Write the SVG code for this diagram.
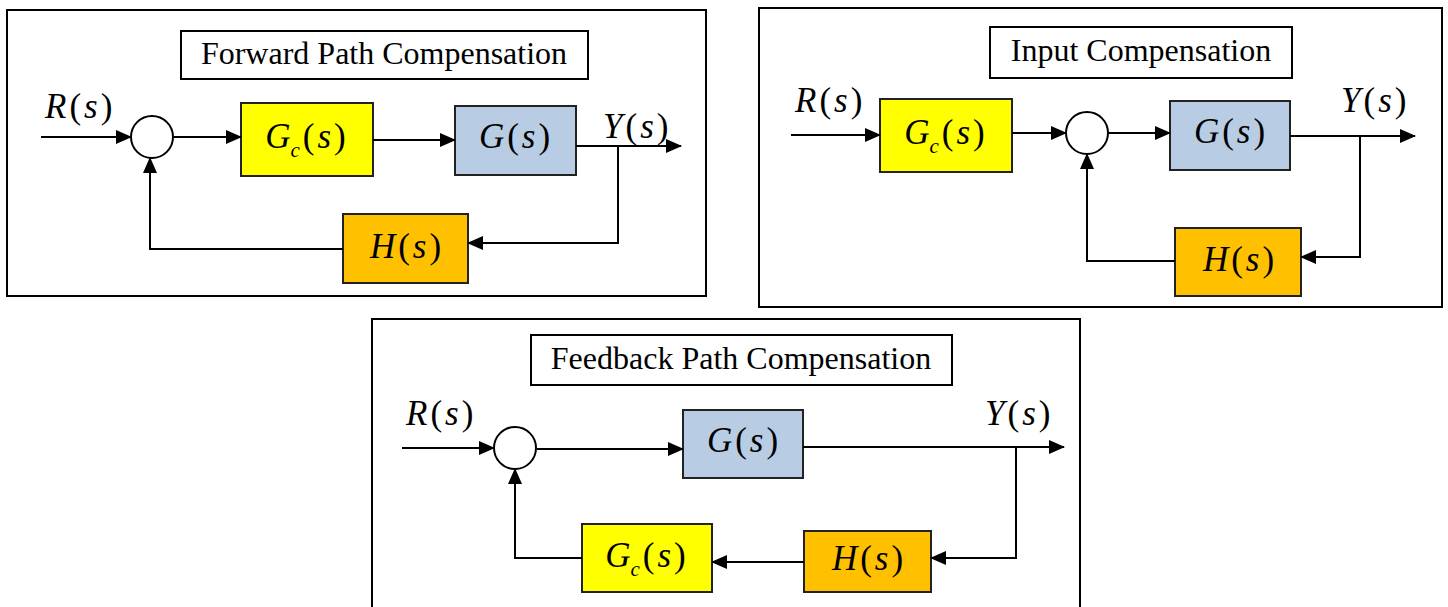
<svg xmlns="http://www.w3.org/2000/svg" width="1448" height="607" viewBox="0 0 1448 607">
<style>
.frame{fill:#fff;stroke:#000;stroke-width:2}
.title{fill:#fff;stroke:#000;stroke-width:2}
.tt{font-family:"Liberation Serif",serif;font-size:32px;fill:#000;text-anchor:middle}
.m{font-family:"Liberation Serif",serif;font-size:35px;fill:#000;letter-spacing:3px}
.i{font-style:italic}
.ns{letter-spacing:0}
.sub{font-size:21px;font-style:italic}
.blk{stroke:#222;stroke-width:2}
.gc{fill:#FFFF00}
.g{fill:#B8CCE4}
.h{fill:#FFC000}
.sum{fill:#fff;stroke:#000;stroke-width:2}
.w{fill:none;stroke:#000;stroke-width:2}
</style>
<defs>
<marker id="ah" markerWidth="16" markerHeight="14" refX="15" refY="7" orient="auto" markerUnits="userSpaceOnUse">
<path d="M0,0 L16,7 L0,14 Z" fill="#000"/>
</marker>
</defs>
<rect width="1448" height="607" fill="#fff"/>

<!-- Panel 1 -->
<g id="panel1">
<rect class="frame" x="7" y="10" width="699" height="286"/>
<g id="p1-title"><rect class="title" x="181" y="31" width="407" height="48"/><text class="tt" x="384" y="64">Forward Path Compensation</text></g>
<text class="m" x="45" y="118"><tspan class="i">R</tspan>(<tspan class="i">s</tspan>)</text>
<text class="m" x="603" y="138"><tspan class="i">Y</tspan>(<tspan class="i">s</tspan>)</text>
<g id="p1-sum"><circle class="sum" cx="152" cy="137" r="21"/></g>
<g id="p1-gc"><rect class="blk gc" x="241" y="103" width="132" height="73"/><text class="m" x="307" y="148" text-anchor="middle"><tspan class="i ns">G</tspan><tspan class="sub" dy="9">c</tspan><tspan dy="-9">(</tspan><tspan class="i">s</tspan>)</text></g>
<g id="p1-g"><rect class="blk g" x="455" y="106" width="121" height="69"/><text class="m" x="516" y="148" text-anchor="middle"><tspan class="i">G</tspan>(<tspan class="i">s</tspan>)</text></g>
<g id="p1-h"><rect class="blk h" x="343" y="214" width="125" height="69"/><text class="m" x="407" y="258" text-anchor="middle"><tspan class="i">H</tspan>(<tspan class="i">s</tspan>)</text></g>
<g id="p1-connectors">
<path class="w" d="M41,137 H131" marker-end="url(#ah)"/>
<path class="w" d="M173,137 H241" marker-end="url(#ah)"/>
<path class="w" d="M373,140 H455" marker-end="url(#ah)"/>
<path class="w" d="M576,146 H681" marker-end="url(#ah)"/>
<path class="w" d="M618,146 V243 H468" marker-end="url(#ah)"/>
<path class="w" d="M343,249 H150 V158" marker-end="url(#ah)"/>
</g>
</g>

<!-- Panel 2 -->
<g id="panel2">
<rect class="frame" x="759" y="8" width="683" height="299"/>
<g id="p2-title"><rect class="title" x="990" y="27" width="302" height="51"/><text class="tt" x="1141" y="61">Input Compensation</text></g>
<text class="m" x="795" y="112"><tspan class="i">R</tspan>(<tspan class="i">s</tspan>)</text>
<text class="m" x="1341" y="112"><tspan class="i">Y</tspan>(<tspan class="i">s</tspan>)</text>
<g id="p2-gc"><rect class="blk gc" x="880" y="99" width="132" height="73"/><text class="m" x="946" y="144" text-anchor="middle"><tspan class="i ns">G</tspan><tspan class="sub" dy="9">c</tspan><tspan dy="-9">(</tspan><tspan class="i">s</tspan>)</text></g>
<g id="p2-sum"><circle class="sum" cx="1087" cy="133" r="21"/></g>
<g id="p2-g"><rect class="blk g" x="1170" y="101" width="120" height="69"/><text class="m" x="1231" y="143" text-anchor="middle"><tspan class="i">G</tspan>(<tspan class="i">s</tspan>)</text></g>
<g id="p2-h"><rect class="blk h" x="1175" y="228" width="126" height="68"/><text class="m" x="1240" y="271" text-anchor="middle"><tspan class="i">H</tspan>(<tspan class="i">s</tspan>)</text></g>
<g id="p2-connectors">
<path class="w" d="M791,135 H880" marker-end="url(#ah)"/>
<path class="w" d="M1012,133 H1066" marker-end="url(#ah)"/>
<path class="w" d="M1108,133 H1170" marker-end="url(#ah)"/>
<path class="w" d="M1290,136 H1415" marker-end="url(#ah)"/>
<path class="w" d="M1360,136 V257 H1301" marker-end="url(#ah)"/>
<path class="w" d="M1175,261 H1087 V154" marker-end="url(#ah)"/>
</g>
</g>

<!-- Panel 3 -->
<g id="panel3">
<rect class="frame" x="372" y="319" width="708" height="300"/>
<g id="p3-title"><rect class="title" x="531" y="335" width="421" height="50"/><text class="tt" x="741" y="369">Feedback Path Compensation</text></g>
<text class="m" x="406" y="425"><tspan class="i">R</tspan>(<tspan class="i">s</tspan>)</text>
<text class="m" x="985" y="425"><tspan class="i">Y</tspan>(<tspan class="i">s</tspan>)</text>
<g id="p3-sum"><circle class="sum" cx="515" cy="448" r="21"/></g>
<g id="p3-g"><rect class="blk g" x="683" y="410" width="120" height="68"/><text class="m" x="744" y="452" text-anchor="middle"><tspan class="i">G</tspan>(<tspan class="i">s</tspan>)</text></g>
<g id="p3-h"><rect class="blk h" x="804" y="531" width="127" height="61"/><text class="m" x="869" y="570" text-anchor="middle"><tspan class="i">H</tspan>(<tspan class="i">s</tspan>)</text></g>
<g id="p3-gc"><rect class="blk gc" x="582" y="524" width="130" height="68"/><text class="m" x="647" y="567" text-anchor="middle"><tspan class="i ns">G</tspan><tspan class="sub" dy="9">c</tspan><tspan dy="-9">(</tspan><tspan class="i">s</tspan>)</text></g>
<g id="p3-connectors">
<path class="w" d="M402,448 H494" marker-end="url(#ah)"/>
<path class="w" d="M537,449 H683" marker-end="url(#ah)"/>
<path class="w" d="M803,447 H1064" marker-end="url(#ah)"/>
<path class="w" d="M1016,447 V558 H931" marker-end="url(#ah)"/>
<path class="w" d="M804,562 H712" marker-end="url(#ah)"/>
<path class="w" d="M582,558 H515 V469" marker-end="url(#ah)"/>
</g>
</g>
</svg>
